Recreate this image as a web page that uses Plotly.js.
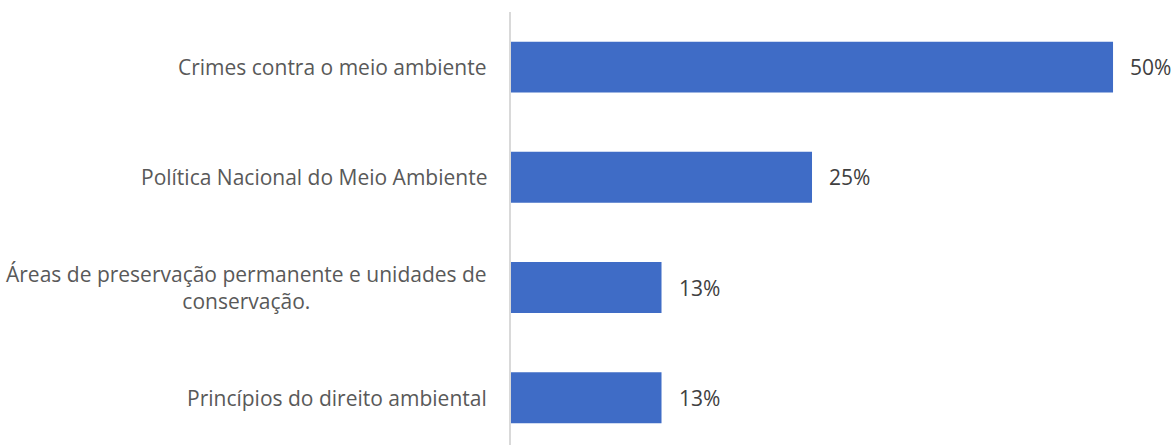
<!DOCTYPE html>
<html><head><meta charset="utf-8">
<script src="https://cdn.plot.ly/plotly-3.0.1.min.js"></script>
<style>html,body{margin:0;padding:0;background:#fff}</style>
</head><body><div id="chart" style="width:1176px;height:445px"></div>
<script>
var categories = [
  "Crimes contra o meio ambiente",
  "Política Nacional do Meio Ambiente",
  "Áreas de preservação permanente e unidades de<br>conservação.",
  "Princípios do direito ambiental"
];
var values = [0.50, 0.25, 0.125, 0.125];
var valueLabels = ["50%", "25%", "13%", "13%"];

var ids = categories.map(function(c, i){ return "c" + i; });

var annotations = [];
categories.forEach(function(c, i){
  annotations.push({x: 0, y: ids[i], xref: 'x', yref: 'y', text: c, showarrow: false,
    xanchor: 'right', yanchor: 'middle', align: 'center', xshift: -22,
    font: {family: 'Open Sans', size: 21, color: '#595959'}});
  annotations.push({x: values[i], y: ids[i], xref: 'x', yref: 'y', text: valueLabels[i], showarrow: false,
    xanchor: 'left', yanchor: 'middle', xshift: 15,
    font: {family: 'Open Sans', size: 21, color: '#404040'}});
});

var trace = {
  type: 'bar', orientation: 'h', x: values, y: ids,
  marker: {color: '#3f6cc6', line: {width: 0}},
  hoverinfo: 'none'
};

var layout = {
  width: 1176, height: 445,
  margin: {l: 511, r: 0, t: 12, b: 0, pad: 0},
  paper_bgcolor: '#fff', plot_bgcolor: '#fff',
  bargap: 0.5376,
  showlegend: false,
  xaxis: {range: [0, 0.5523], visible: false, fixedrange: true},
  yaxis: {type: 'category', range: [3.428, -0.5], showticklabels: false, showgrid: false,
    zeroline: false, showline: true, linecolor: '#d9d9d9', linewidth: 2, ticks: '', fixedrange: true},
  annotations: annotations
};

Plotly.newPlot('chart', [trace], layout, {displayModeBar: false, staticPlot: true});
</script></body></html>
